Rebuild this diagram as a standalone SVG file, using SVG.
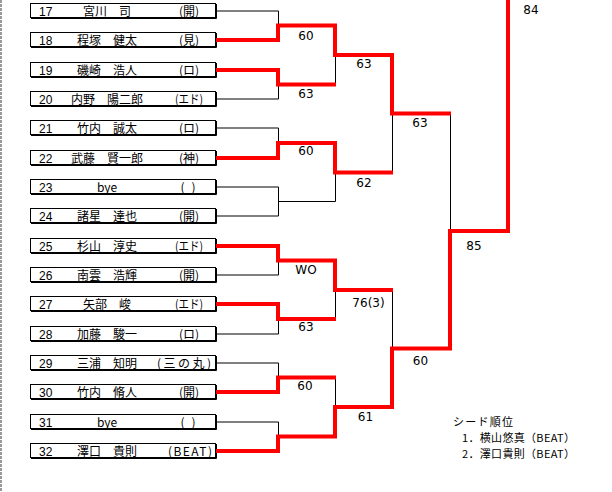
<svg xmlns="http://www.w3.org/2000/svg" xmlns:xlink="http://www.w3.org/1999/xlink" width="612" height="492" viewBox="0 0 612 492">
<style>
.bx{fill:none;stroke:#000;stroke-width:1}
.num{font-family:"Liberation Sans",sans-serif;font-size:12px;fill:#000}
.nm{font-family:"Noto Sans CJK JP",sans-serif;font-size:12px;fill:#000;text-anchor:middle}
.sc{font-family:"DejaVu Sans",sans-serif;font-size:12px;fill:#000;text-anchor:middle}
.sd{font-family:"Noto Sans CJK JP",sans-serif;font-size:11px;fill:#000}
.bl{fill:none;stroke:#000;stroke-width:1}
.rd{fill:none;stroke:#ff0000;stroke-width:4;stroke-linejoin:miter;stroke-linecap:square}
</style>
<defs>
<g id="boxshape"><rect x="30.5" y="0.5" width="185" height="14" class="bx"/><path d="M31 15.5H216.5V1" class="bx"/></g>
</defs>
<rect x="0" y="0" width="612" height="492" fill="#fff"/>
<line x1="1" y1="0" x2="1" y2="492" stroke="#999" stroke-width="2" stroke-dasharray="3 1"/>

<g id="p17" transform="translate(0,3)"><use xlink:href="#boxshape"/><text class="num" x="39" y="12.5">17</text><text class="nm" x="107" y="12.5">宮川　司</text><text class="nm" x="189" y="12.5">(開)</text></g>
<g id="p18" transform="translate(0,32)"><use xlink:href="#boxshape"/><text class="num" x="39" y="12.5">18</text><text class="nm" x="107" y="12.5">程塚　健太</text><text class="nm" x="189" y="12.5">(見)</text></g>
<g id="p19" transform="translate(0,62)"><use xlink:href="#boxshape"/><text class="num" x="39" y="12.5">19</text><text class="nm" x="107" y="12.5">磯崎　浩人</text><text class="nm" x="189" y="12.5">(ロ)</text></g>
<g id="p20" transform="translate(0,91)"><use xlink:href="#boxshape"/><text class="num" x="39" y="12.5">20</text><text class="nm" x="107" y="12.5">内野　陽二郎</text><text class="nm" x="189" y="12.5" textLength="28" lengthAdjust="spacingAndGlyphs">(エド)</text></g>
<g id="p21" transform="translate(0,120)"><use xlink:href="#boxshape"/><text class="num" x="39" y="12.5">21</text><text class="nm" x="107" y="12.5">竹内　誠太</text><text class="nm" x="189" y="12.5">(ロ)</text></g>
<g id="p22" transform="translate(0,150)"><use xlink:href="#boxshape"/><text class="num" x="39" y="12.5">22</text><text class="nm" x="107" y="12.5">武藤　賢一郎</text><text class="nm" x="189" y="12.5">(神)</text></g>
<g id="p23" transform="translate(0,179)"><use xlink:href="#boxshape"/><text class="num" x="39" y="12.5">23</text><text class="nm" x="107" y="12.5">bye</text><text class="nm" x="188" y="12.5" textLength="15">( )</text></g>
<g id="p24" transform="translate(0,208)"><use xlink:href="#boxshape"/><text class="num" x="39" y="12.5">24</text><text class="nm" x="107" y="12.5">諸星　達也</text><text class="nm" x="189" y="12.5">(開)</text></g>
<g id="p25" transform="translate(0,238)"><use xlink:href="#boxshape"/><text class="num" x="39" y="12.5">25</text><text class="nm" x="107" y="12.5">杉山　淳史</text><text class="nm" x="189" y="12.5" textLength="28" lengthAdjust="spacingAndGlyphs">(エド)</text></g>
<g id="p26" transform="translate(0,267)"><use xlink:href="#boxshape"/><text class="num" x="39" y="12.5">26</text><text class="nm" x="107" y="12.5">南雲　浩輝</text><text class="nm" x="189" y="12.5">(開)</text></g>
<g id="p27" transform="translate(0,296)"><use xlink:href="#boxshape"/><text class="num" x="39" y="12.5">27</text><text class="nm" x="107" y="12.5">矢部　峻</text><text class="nm" x="189" y="12.5" textLength="28" lengthAdjust="spacingAndGlyphs">(エド)</text></g>
<g id="p28" transform="translate(0,326)"><use xlink:href="#boxshape"/><text class="num" x="39" y="12.5">28</text><text class="nm" x="107" y="12.5">加藤　駿一</text><text class="nm" x="189" y="12.5">(ロ)</text></g>
<g id="p29" transform="translate(0,355)"><use xlink:href="#boxshape"/><text class="num" x="39" y="12.5">29</text><text class="nm" x="107" y="12.5">三浦　知明</text><text class="nm" x="184" y="12.5" textLength="54">(三の丸)</text></g>
<g id="p30" transform="translate(0,384)"><use xlink:href="#boxshape"/><text class="num" x="39" y="12.5">30</text><text class="nm" x="107" y="12.5">竹内　脩人</text><text class="nm" x="189" y="12.5">(開)</text></g>
<g id="p31" transform="translate(0,414)"><use xlink:href="#boxshape"/><text class="num" x="39" y="12.5">31</text><text class="nm" x="107" y="12.5">bye</text><text class="nm" x="188" y="12.5" textLength="15">( )</text></g>
<g id="p32" transform="translate(0,443)"><use xlink:href="#boxshape"/><text class="num" x="39" y="12.5">32</text><text class="nm" x="107" y="12.5">澤口　貴則</text><text class="nm" x="190" y="12.5" textLength="44">(BEAT)</text></g>

<g id="connectors">
<path class="bl" d="M216 11H278.5V25.5"/>
<path class="bl" d="M216 99H278.5V84.5"/>
<path class="bl" d="M216 128H278.5V143"/>
<path class="bl" d="M216 187H278.5V216H216M278.5 201.5H335.5"/>
<path class="bl" d="M216 275H278.5V260.5"/>
<path class="bl" d="M216 334H278.5V319"/>
<path class="bl" d="M216 363H278.5V377.5"/>
<path class="bl" d="M216 422H278.5V436.5"/>
<path class="bl" d="M335.5 55V84.5M335.5 172.5V201.5M335.5 290V319M335.5 377.5V407"/>
<path class="bl" d="M392.5 113.5V172.5M392.5 290V348.5"/>
<path class="bl" d="M450.5 113.5V231"/>
<path class="rd" d="M218 40H278V25.5H335V55H392V113.5H449"/>
<path class="rd" d="M218 70H278V84.5H334"/>
<path class="rd" d="M218 158H278V143H335V172.5H391"/>
<path class="rd" d="M218 246H278V260.5H335V290H391"/>
<path class="rd" d="M218 304H278V319H334"/>
<path class="rd" d="M218 392H278V377.5H334"/>
<path class="rd" d="M218 451H278V436.5H335V407H392V348.5H450V231H508V-2"/>
</g>

<g id="scores">
<text class="sc" x="306" y="40">60</text>
<text class="sc" x="306" y="98">63</text>
<text class="sc" x="306" y="155">60</text>
<text class="sc" x="306" y="274">WO</text>
<text class="sc" x="306" y="331">63</text>
<text class="sc" x="305" y="390">60</text>
<text class="sc" x="364" y="68">63</text>
<text class="sc" x="364" y="187">62</text>
<text class="sc" x="368.5" y="307">76(3)</text>
<text class="sc" x="365.5" y="421">61</text>
<text class="sc" x="420" y="127">63</text>
<text class="sc" x="420.5" y="365">60</text>
<text class="sc" x="474" y="250">85</text>
<text class="sc" x="531" y="14">84</text>
</g>

<g id="seeds">
<text class="sd" x="453" y="426" textLength="60">シード順位</text>
<text class="sd" x="462" y="442" textLength="113">1．横山悠真（BEAT）</text>
<text class="sd" x="462" y="458" textLength="113">2．澤口貴則（BEAT）</text>
</g>
</svg>
